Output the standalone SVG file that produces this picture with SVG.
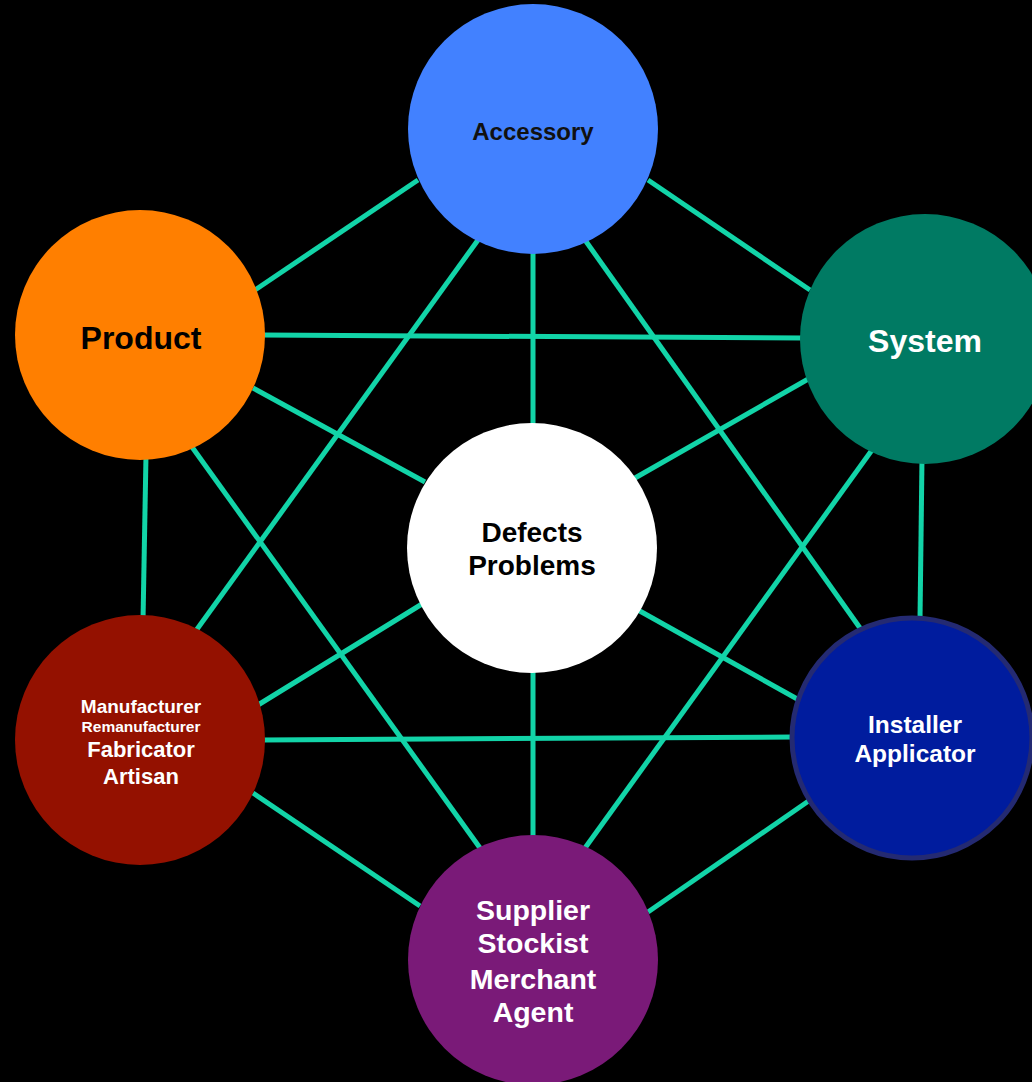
<svg xmlns="http://www.w3.org/2000/svg" width="1032" height="1082" viewBox="0 0 1032 1082">
<style>
.e{stroke:#12D4A8;stroke-width:5;fill:none}
.t{font-family:"Liberation Sans",Arial,sans-serif;font-weight:bold;text-anchor:middle}
.w{fill:#ffffff}
.k{fill:#000000}
</style>
<rect width="1032" height="1082" fill="#000000"/>
<g id="connectors">
<line class="e" x1="418" y1="180" x2="255" y2="290"/>
<line class="e" x1="648" y1="180" x2="810" y2="290"/>
<line class="e" x1="533" y1="250" x2="533" y2="428"/>
<line class="e" x1="478" y1="240" x2="195" y2="632"/>
<line class="e" x1="585" y1="240" x2="860" y2="628"/>
<line class="e" x1="262" y1="335" x2="803" y2="338"/>
<line class="e" x1="253" y1="388" x2="425" y2="482"/>
<line class="e" x1="146" y1="455" x2="143" y2="621"/>
<line class="e" x1="192" y1="447" x2="480" y2="848"/>
<line class="e" x1="810" y1="378" x2="635" y2="478"/>
<line class="e" x1="922" y1="458" x2="920" y2="620"/>
<line class="e" x1="872" y1="450" x2="585" y2="848"/>
<line class="e" x1="422" y1="604" x2="258" y2="705"/>
<line class="e" x1="638" y1="610" x2="808" y2="705"/>
<line class="e" x1="533" y1="668" x2="533" y2="840"/>
<line class="e" x1="262" y1="740" x2="793" y2="737"/>
<line class="e" x1="253" y1="793" x2="420" y2="906"/>
<line class="e" x1="810" y1="800" x2="648" y2="912"/>
</g>
<g id="accessory">
<circle cx="533" cy="129" r="125" fill="#4281FF"/>
<text class="t" x="533" y="140" font-size="24" fill="#111111">Accessory</text>
</g>
<g id="product">
<circle cx="140" cy="335" r="125" fill="#FF7F00"/>
<text class="t k" x="141" y="349" font-size="32">Product</text>
</g>
<g id="system">
<circle cx="925" cy="339" r="125" fill="#007A63"/>
<text class="t w" x="925" y="352" font-size="32">System</text>
</g>
<g id="defects">
<circle cx="532" cy="548" r="125" fill="#FFFFFF"/>
<text class="t k" x="532" y="542" font-size="28">Defects</text>
<text class="t k" x="532" y="575" font-size="28">Problems</text>
</g>
<g id="manufacturer">
<circle cx="140" cy="740" r="125" fill="#941100"/>
<text class="t w" x="141" y="713" font-size="19">Manufacturer</text>
<text class="t w" x="141" y="732" font-size="15.5">Remanufacturer</text>
<text class="t w" x="141" y="757" font-size="22">Fabricator</text>
<text class="t w" x="141" y="784" font-size="22">Artisan</text>
</g>
<g id="installer">
<circle cx="912" cy="738" r="120" fill="#001C9E" stroke="#242A72" stroke-width="5"/>
<text class="t w" x="915" y="733" font-size="24.5">Installer</text>
<text class="t w" x="915" y="762" font-size="24.5">Applicator</text>
</g>
<g id="supplier">
<circle cx="533" cy="960" r="125" fill="#7A1A78"/>
<text class="t w" x="533" y="920" font-size="28.5">Supplier</text>
<text class="t w" x="533" y="953" font-size="28.5">Stockist</text>
<text class="t w" x="533" y="989" font-size="28.5">Merchant</text>
<text class="t w" x="533" y="1022" font-size="28.5">Agent</text>
</g>
</svg>
